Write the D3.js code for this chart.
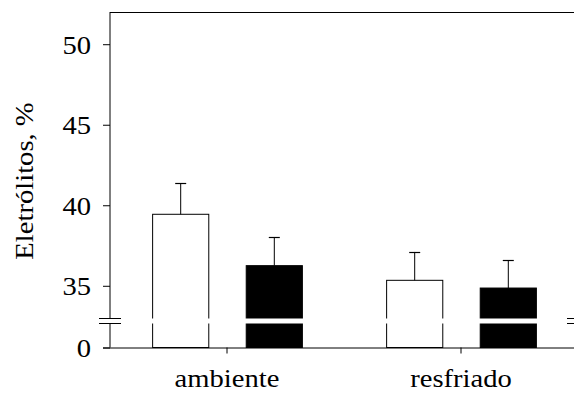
<!DOCTYPE html>
<html>
<head>
<meta charset="utf-8">
<script src="https://cdn.jsdelivr.net/npm/d3@7"></script>
<style>
  html, body { margin: 0; padding: 0; background: #fff; }
  svg { display: block; }
</style>
</head>
<body>
<svg id="chart" width="574" height="394"></svg>
<script>
// Electrolyte leakage (%) by storage condition, two treatments per group
const categories = ["ambiente", "resfriado"];
const series = ["controle", "tratado"];
const seriesFill = ["#fff", "#000"];
const meanControle = [39.44, 35.34];
const meanTratado = [36.25, 34.86];
const errControle = [1.92, 1.76];
const errTratado = [1.78, 1.72];
const upperTicks = [35, 40, 45, 50];
const lowerTicks = [0];
const yTitle = "Eletrólitos, %";

const FONT = "'Liberation Serif', 'Times New Roman', Times, serif";
const FONT_SIZE = 26;
const WIDEN = 1.1; // horizontal glyph stretch for the serif labels

const data = categories.flatMap((c, i) => [
  { cat: c, s: series[0], v: meanControle[i], e: errControle[i], fill: seriesFill[0] },
  { cat: c, s: series[1], v: meanTratado[i], e: errTratado[i], fill: seriesFill[1] }
]);

const svg = d3.select("#chart");
const plotLeft = 110, plotRight = 578, plotTop = 12;
const breakTop = 318, breakBottom = 323, baseY = 347.5;

// Broken y axis: upper segment carries the data, lower segment holds zero
const yUp = d3.scaleLinear().domain([33, 52]).range([breakTop, plotTop]);
const yLow = d3.scaleLinear().domain([0, 1.5]).range([baseY, breakBottom]);

const x0 = d3.scaleBand().domain(categories).range([plotLeft, plotRight]);
const x1 = d3.scaleBand().domain(series).range([0, x0.bandwidth()])
  .paddingInner(0.4).paddingOuter(0.45);

// bars
const bars = svg.append("g");
bars.selectAll("rect.bar").data(data).join("rect")
  .attr("class", "bar")
  .attr("x", d => x0(d.cat) + x1(d.s) + 0.5)
  .attr("width", x1.bandwidth())
  .attr("y", d => yUp(d.v))
  .attr("height", d => yLow(0) - yUp(d.v))
  .attr("fill", d => d.fill)
  .attr("stroke", "#000")
  .attr("stroke-width", 1);

// white band across each bar at the axis break
bars.selectAll("rect.gap").data(data).join("rect")
  .attr("class", "gap")
  .attr("x", d => x0(d.cat) + x1(d.s) - 1)
  .attr("width", x1.bandwidth() + 3)
  .attr("y", breakTop + 0.5)
  .attr("height", breakBottom - breakTop)
  .attr("fill", "#fff");

// error bars (upper only)
const eb = svg.append("g").attr("stroke", "#000");
eb.selectAll("line.stem").data(data).join("line")
  .attr("class", "stem")
  .attr("x1", d => x0(d.cat) + x1(d.s) + x1.bandwidth() / 2 + 0.5)
  .attr("x2", d => x0(d.cat) + x1(d.s) + x1.bandwidth() / 2 + 0.5)
  .attr("y1", d => yUp(d.v))
  .attr("y2", d => yUp(d.v + d.e));
eb.selectAll("line.cap").data(data).join("line")
  .attr("class", "cap")
  .attr("x1", d => x0(d.cat) + x1(d.s) + x1.bandwidth() / 2 - 5)
  .attr("x2", d => x0(d.cat) + x1(d.s) + x1.bandwidth() / 2 + 6)
  .attr("y1", d => Math.round(yUp(d.v + d.e)) + 0.5)
  .attr("y2", d => Math.round(yUp(d.v + d.e)) + 0.5)
  .attr("stroke-width", 1.2);

// frame top
svg.append("line")
  .attr("x1", plotLeft).attr("x2", plotRight)
  .attr("y1", plotTop + 0.5).attr("y2", plotTop + 0.5)
  .attr("stroke", "#000");

// y axis, upper segment
const axUp = svg.append("g")
  .attr("transform", `translate(${plotLeft},0)`)
  .call(d3.axisLeft(yUp).tickValues(upperTicks).tickFormat(d3.format("d"))
    .tickSize(7).tickPadding(12).tickSizeOuter(0));
axUp.select(".domain").remove();
axUp.append("line").attr("x1", 0).attr("x2", 0)
  .attr("y1", plotTop).attr("y2", breakTop).attr("stroke", "#000");

// y axis, lower segment
const axLow = svg.append("g")
  .attr("transform", `translate(${plotLeft},0)`)
  .call(d3.axisLeft(yLow).tickValues(lowerTicks).tickFormat(d3.format("d"))
    .tickSize(7).tickPadding(12).tickSizeOuter(0));
axLow.select(".domain").remove();
axLow.append("line").attr("x1", 0).attr("x2", 0)
  .attr("y1", breakBottom).attr("y2", baseY).attr("stroke", "#000");

[axUp, axLow].forEach(ax => {
  ax.attr("font-family", FONT).attr("font-size", FONT_SIZE);
  ax.selectAll(".tick line").attr("stroke", "#000");
  ax.selectAll(".tick text")
    .attr("fill", "#000")
    .attr("dy", "0.35em")
    .attr("x", function () { return +d3.select(this).attr("x") / WIDEN; })
    .attr("transform", `scale(${WIDEN},1)`);
});

// break marks on both vertical axes
const marks = svg.append("g").attr("stroke", "#000");
[plotLeft, plotRight].forEach(xa => {
  [breakTop, breakBottom].forEach(yb => {
    marks.append("line")
      .attr("x1", xa - 11).attr("x2", xa + 11)
      .attr("y1", yb + 0.5).attr("y2", yb + 0.5);
  });
});

// x axis
const axX = svg.append("g")
  .attr("transform", `translate(0,${baseY})`)
  .call(d3.axisBottom(x0).tickSize(6).tickPadding(15).tickSizeOuter(0));
axX.attr("font-family", FONT).attr("font-size", FONT_SIZE);
axX.select(".domain").attr("d", `M${plotLeft - 7},0.5H${plotRight}`).attr("stroke", "#000");
axX.selectAll(".tick line").attr("stroke", "#000");
axX.selectAll(".tick text").attr("fill", "#000").attr("transform", `scale(${WIDEN},1)`);

// y title
svg.append("text")
  .attr("transform", `translate(33,181) rotate(-90) scale(${WIDEN},1)`)
  .attr("text-anchor", "middle")
  .attr("font-family", FONT)
  .attr("font-size", FONT_SIZE)
  .attr("fill", "#000")
  .text(yTitle);
</script>
</body>
</html>
